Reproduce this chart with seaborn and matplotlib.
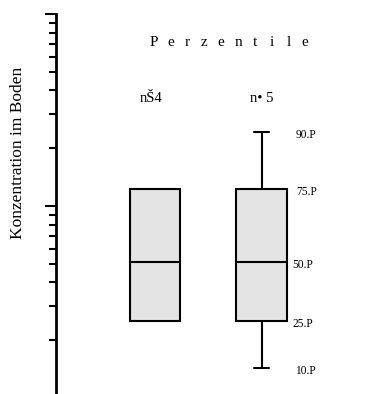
import matplotlib
matplotlib.use("Agg")
import matplotlib.pyplot as plt
import seaborn as sns
import pandas as pd
import numpy as np

# ---- data ----
groups = ["nŠ4", "n• 5"]
p10 = [None, 0.143]
p25 = [0.252, 0.252]
p50 = [0.511, 0.511]
p75 = [1.226, 1.226]
p90 = [None, 2.43]
pct_labels = ["90.P", "75.P", "50.P", "25.P", "10.P"]
title_text = "Perzentile"
ylabel_text = "Konzentration im Boden"

sns.set_style("ticks")
plt.rcParams['font.family'] = ['Liberation Serif', 'DejaVu Serif']
plt.rcParams['text.color'] = 'black'
plt.rcParams['axes.edgecolor'] = 'black'
plt.rcParams['ytick.color'] = 'black'

rows = []
for i, g in enumerate(groups):
    lo = p10[i] if p10[i] is not None else p25[i]
    hi = p90[i] if p90[i] is not None else p75[i]
    for v in [lo, p25[i], p50[i], p75[i], hi]:
        rows.append({"group": g, "value": v})
df = pd.DataFrame(rows)

W, H = 369, 394
fig = plt.figure(figsize=(W / 100, H / 100), dpi=100)
ax = fig.add_axes([55.5 / W, 0.0, 1 - 55.5 / W, 1 - 14 / H])

box_w = 0.47
sns.boxplot(data=df, x="group", y="value", order=groups, whis=(0, 100),
            log_scale=True, width=box_w, color="#e4e4e4", saturation=1,
            linecolor="black", linewidth=1.5, ax=ax)

# narrower caps; hide caps of the group without whiskers
for ln in ax.lines:
    xd = np.asarray(ln.get_xdata(), dtype=float)
    yd = np.asarray(ln.get_ydata(), dtype=float)
    if len(xd) == 2 and yd[0] == yd[1]:
        span = abs(xd[1] - xd[0])
        if 0.02 < span < 0.9 * box_w:
            c = (xd[0] + xd[1]) / 2
            ln.set_xdata([c - 0.07, c + 0.07])
            gi = int(round(c))
            if p10[gi] is None:
                ln.set_visible(False)

ax.set_ylim(0.105, 10)
ax.set_xlim(-0.934, 2.009)
ax.set_xticks([])
ax.set_xlabel("")
ax.set_ylabel("")
for s in ["top", "right", "bottom"]:
    ax.spines[s].set_visible(False)
ax.spines["left"].set_linewidth(2.0)
ax.tick_params(axis="y", which="major", length=8, width=1.5, direction="out", labelleft=False)
ax.tick_params(axis="y", which="minor", length=5, width=1.5, direction="out", labelleft=False)

# percentile labels next to the second box
vals2 = [p90[1], p75[1], p50[1], p25[1], p10[1]]
xoff = [34, 35, 31, 31, 34]
for lab, v, dx in zip(pct_labels, vals2, xoff):
    ax.annotate(lab, xy=(1, v), xycoords="data", xytext=(dx, -3),
                textcoords="offset pixels", ha="left", va="center", fontsize=8.3)

# group labels
for i, g in enumerate(groups):
    ax.annotate(g, xy=(i, 1), xycoords=("data", "axes fraction"),
                xytext=(-4 if i == 0 else 0, -(98 - 14)), textcoords="offset pixels",
                ha="center", va="center", fontsize=10.5)

# spaced title
for k, ch in enumerate(title_text):
    fig.text((154 + k * 16.8) / W, 1 - 42 / H, ch, ha="center", va="center", fontsize=11)

fig.text(18 / W, 1 - 153 / H, ylabel_text, rotation=90, ha="center", va="center", fontsize=12.5)

fig.savefig("out.png", dpi=100)
